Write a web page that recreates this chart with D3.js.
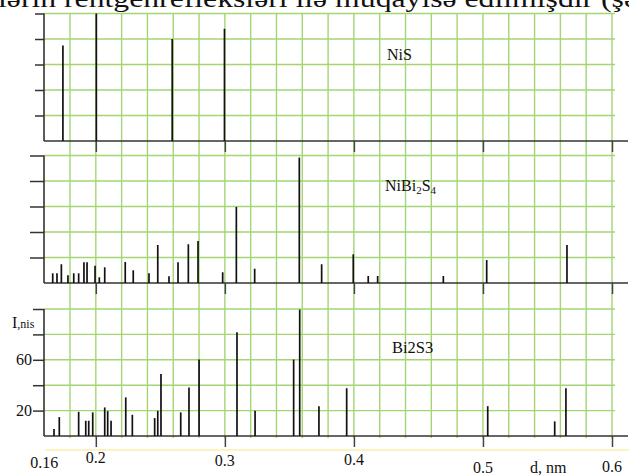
<!DOCTYPE html>
<html>
<head>
<meta charset="utf-8">
<script src="https://cdn.jsdelivr.net/npm/d3@7"></script>
<style>
  html, body { margin: 0; padding: 0; background: #fff; }
  svg { display: block; }
</style>
</head>
<body>
<svg id="chart" width="629" height="475"></svg>
<script>
// Interplanar spacing d (nm) of X-ray reflections and their relative intensities
const nisD = [0.1745, 0.2004, 0.2592, 0.2997];
const nisI = [75, 100, 80, 88];

const nibi2s4D = [0.1666, 0.1699, 0.1733, 0.1784, 0.1829, 0.1867, 0.1908, 0.1932, 0.1994, 0.2027,
                  0.2069, 0.2228, 0.2290, 0.2412, 0.2480, 0.2567, 0.2637, 0.2717, 0.2792, 0.2983,
                  0.3089, 0.3231, 0.3577, 0.3750, 0.3995, 0.4111, 0.4184, 0.4693, 0.5029, 0.5651];
const nibi2s4I = [7.6, 7.6, 14.7, 6, 7.6, 7.6, 16.2, 16.2, 13.6, 4.5,
                  12.3, 16.5, 10, 7.6, 29.8, 5.2, 16.2, 30.4, 33, 8.4,
                  59.7, 11.2, 98.4, 14.7, 22.5, 5.5, 5.5, 5.5, 18, 29.8];

const bi2s3D = [0.1676, 0.1717, 0.1867, 0.1922, 0.1945, 0.1976, 0.2069, 0.2092, 0.2118, 0.2232,
                0.2283, 0.2456, 0.2480, 0.2505, 0.2658, 0.2722, 0.2800, 0.3094, 0.3234, 0.3533,
                0.3580, 0.3729, 0.3944, 0.5037, 0.5556, 0.5643];
const bi2s3I = [5.5, 14.9, 19, 12, 12, 18.6, 22.5, 19.6, 12, 30.4,
                16.7, 14.1, 19.8, 48.9, 18.6, 38.2, 60.2, 81.6, 19.8, 60.2,
                99.6, 23.5, 37.6, 23.5, 11.5, 37.6];

const xTickValues = [0.2, 0.3, 0.4, 0.5, 0.6];
const xTickLabels = ["0.16", "0.2", "0.3", "0.4", "0.5", "0.6"];
const xTickLabelValues = [0.16, 0.2, 0.3, 0.4, 0.5, 0.6];
const yGridValues = [20, 40, 60, 80, 100];
const yLabelValues = [60, 20];
const gridD = d3.range(9, 31).map(k => k * 0.02);   // 0.18 … 0.60

const serif = "'Liberation Serif', 'Times New Roman', Times, 'DejaVu Serif', serif";
const svg = d3.select("#chart")
  .attr("font-family", serif)
  .style("font-family", serif);

const x = d3.scaleLinear().domain([0.16, 0.6]).range([44.2, 612]);

// three stacked panels, each with its own intensity scale 0–100
const panels = [
  { d: nisD,     I: nisI,     y0: 141, y1: 13.5, tickLen: 9 },
  { d: nibi2s4D, I: nibi2s4I, y0: 283, y1: 155.5, tickLen: 14 },
  { d: bi2s3D,   I: bi2s3I,   y0: 436, y1: 309, tickLen: 11 }
];
panels.forEach(p => { p.y = d3.scaleLinear().domain([0, 100]).range([p.y0, p.y1]); });

const green = "#a3d672";

function label(sel) {
  return sel.attr("font-family", serif).style("font-family", serif).attr("fill", "#111");
}

// clipped line of running text above the figure
label(svg.append("text"))
  .attr("x", -2).attr("y", 6.5)
  .attr("font-size", 25)
  .attr("textLength", 640).attr("lengthAdjust", "spacingAndGlyphs")
  .text("lərin rentgenrefleksləri ilə müqayisə edilmişdir (şə");

// vertical grid lines shared by all panels
svg.append("g").selectAll("line").data(gridD).join("line")
  .attr("x1", d => x(d)).attr("x2", d => x(d))
  .attr("y1", 13.5).attr("y2", 438)
  .attr("stroke", green).attr("stroke-width", 1.4);

// faint yellow rule under the lowest axis
svg.append("line")
  .attr("x1", 45).attr("x2", 629).attr("y1", 450).attr("y2", 450)
  .attr("stroke", "#fbf4c0").attr("stroke-width", 2);

panels.forEach(p => {
  const g = svg.append("g");

  // horizontal grid
  g.append("g").selectAll("line").data(yGridValues).join("line")
    .attr("x1", 44).attr("x2", 615)
    .attr("y1", v => p.y(v)).attr("y2", v => p.y(v))
    .attr("stroke", green).attr("stroke-width", 1.4);

  // left intensity axis
  const yAxis = d3.axisLeft(p.y).tickValues(yGridValues).tickSize(p.tickLen).tickFormat("");
  const ya = g.append("g").attr("transform", "translate(44,0)").call(yAxis);
  ya.select(".domain").attr("d", `M0,${p.y1}V${p.y0}`).attr("stroke", "#333").attr("stroke-width", 1.6);
  ya.selectAll(".tick line").attr("stroke", "#333").attr("stroke-width", 1.5);

  // bottom d axis
  const xAxis = d3.axisBottom(x).tickValues(xTickValues).tickSize(11).tickFormat("");
  const xa = g.append("g").attr("transform", `translate(0,${p.y0})`).call(xAxis);
  xa.select(".domain").attr("d", "M44,0H628").attr("stroke", "#333").attr("stroke-width", 1.5);
  xa.selectAll(".tick line").attr("stroke", "#444").attr("stroke-width", 1.5);

  // reflection lines
  g.append("g").selectAll("line").data(p.d).join("line")
    .attr("x1", d => x(d)).attr("x2", d => x(d))
    .attr("y1", p.y(0)).attr("y2", (d, i) => p.y(p.I[i]))
    .attr("stroke", "#111").attr("stroke-width", 1.7);
});

// phase labels
label(svg.append("text")).attr("x", 387).attr("y", 59.5).attr("font-size", 16).text("NiS");

const t2 = label(svg.append("text")).attr("x", 385).attr("y", 190.5).attr("font-size", 16);
t2.append("tspan").text("NiBi");
t2.append("tspan").attr("font-size", 11).attr("dy", 3).text("2");
t2.append("tspan").attr("dy", -3).text("S");
t2.append("tspan").attr("font-size", 11).attr("dy", 3).text("4");

label(svg.append("text")).attr("x", 392).attr("y", 352.5).attr("font-size", 16.5).text("Bi2S3");

// intensity labels of the lowest panel
const yb = panels[2].y;
label(svg.append("g").selectAll("text").data(yLabelValues).join("text"))
  .attr("x", 32).attr("y", v => yb(v) + 5.5)
  .attr("text-anchor", "end").attr("font-size", 16)
  .text(d => d);

const il = label(svg.append("text")).attr("x", 12).attr("y", 328).attr("font-size", 16);
il.append("tspan").text("I");
il.append("tspan").attr("font-size", 12).text(",nis");

// d tick labels
const labelY = [468, 463, 466, 464.5, 472.5, 472];
label(svg.append("g").selectAll("text").data(xTickLabelValues).join("text"))
  .attr("x", d => x(d)).attr("y", (d, i) => labelY[i])
  .attr("text-anchor", "middle").attr("font-size", 16)
  .text((d, i) => xTickLabels[i]);

label(svg.append("text")).attr("x", 530).attr("y", 472.5).attr("font-size", 16).text("d, nm");
</script>
</body>
</html>
